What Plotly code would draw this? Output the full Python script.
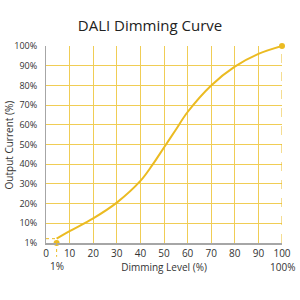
import plotly.graph_objects as go

level = [4.5, 10, 20, 30, 40, 45, 50, 55, 60, 70, 80, 90, 100]
current = [2.2, 6, 12.5, 20.5, 31.5, 39.5, 48.5, 57.5, 66.5, 80, 89.5, 96, 100]
x_ticks = [0, 10, 20, 30, 40, 50, 60, 70, 80, 90, 100]
y_ticks = [0, 10, 20, 30, 40, 50, 60, 70, 80, 90, 100]
y_labels = ["1%", "10%", "20%", "30%", "40%", "50%", "60%", "70%", "80%", "90%", "100%"]

curve_col = "#EBBB22"
grid_col = "#F0CD55"
font_fam = "Open Sans, Liberation Sans, sans-serif"

fig = go.Figure()
fig.add_trace(go.Scatter(x=level, y=current, mode="lines",
                         line=dict(color=curve_col, width=2, shape="spline", smoothing=1.0),
                         hoverinfo="skip"))
fig.add_trace(go.Scatter(x=[level[0], level[-1]], y=[0, current[-1]], mode="markers",
                         marker=dict(color=curve_col, size=6), cliponaxis=False,
                         hoverinfo="skip"))

shapes = [
    dict(type="line", xref="x", yref="y", x0=0, x1=level[0], y0=current[0], y1=current[0],
         line=dict(color=curve_col, width=1, dash="dot")),
    dict(type="line", xref="x", yref="paper", x0=level[0], x1=level[0], y0=0, y1=-0.07,
         line=dict(color=curve_col, width=1, dash="dot")),
    dict(type="line", xref="x", yref="y", x0=100, x1=100, y0=0, y1=100,
         line=dict(color=curve_col, width=1, dash="dash")),
]

fig.update_layout(
    width=300, height=300,
    margin=dict(l=46, r=18, t=46, b=57),
    paper_bgcolor="white", plot_bgcolor="white",
    showlegend=False,
    font=dict(family=font_fam, color="#333333", size=10),
    title=dict(text="DALI Dimming Curve", x=0.5, xanchor="center", y=0.915, yanchor="middle",
               font=dict(family=font_fam, size=15, color="#222222")),
    shapes=shapes,
    annotations=[
        dict(text="1%", x=level[0], xref="x", y=-0.115, yref="paper", showarrow=False,
             font=dict(size=10, color="#333333"), yanchor="middle"),
        dict(text="100%", x=100, xref="x", y=-0.12, yref="paper", showarrow=False,
             font=dict(size=10, color="#333333"), yanchor="middle"),
        dict(text="Output Current (%)", textangle=-90, x=-0.157, xref="paper", xanchor="center",
             y=0.5, yref="paper", showarrow=False, font=dict(size=10, color="#333333")),
    ],
)
fig.update_xaxes(range=[0, 100], tickvals=x_ticks, showgrid=True, gridcolor=grid_col, gridwidth=1,
                 showline=True, linecolor="#A6A6A6", linewidth=2, zeroline=False,
                 ticks="", automargin=False,
                 title=dict(text="Dimming Level (%)", font=dict(size=10), standoff=4),
                 tickfont=dict(size=10))
fig.update_yaxes(range=[0, 100], tickvals=y_ticks, ticktext=y_labels, showgrid=True,
                 gridcolor=grid_col, gridwidth=1, showline=True, linecolor="#A6A6A6", linewidth=1,
                 zeroline=False, ticks="", automargin=False, ticklabelstandoff=6,
                 tickfont=dict(size=9))

fig.write_html("out.html")
